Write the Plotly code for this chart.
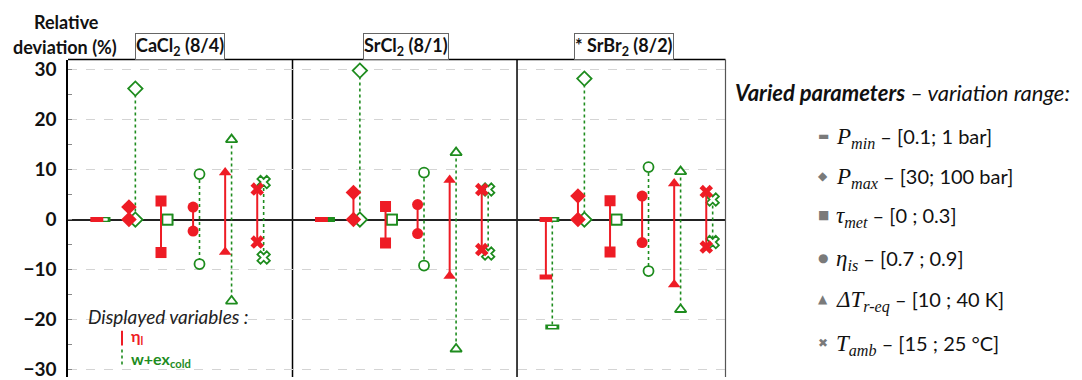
import plotly.graph_objects as go

# ---------------- data ----------------
materials = ["CaCl<sub>2</sub> (8/4)", "SrCl<sub>2</sub> (8/1)", "* SrBr<sub>2</sub> (8/2)"]
params = ["P_min", "P_max", "tau_met", "eta_is", "dT_r-eq", "T_amb"]

# (high, low) relative deviation (%) of eta_I for each parameter
eta_CaCl2 = [(0, 0), (2.5, 0), (3.7, -6.6), (2.5, -2.3), (9.4, -6.5), (6.1, -4.5)]
eta_SrCl2 = [(0, 0), (5.4, 0), (2.6, -4.7), (3.0, -2.8), (7.9, -11.3), (6.0, -6.0)]
eta_SrBr2 = [(0, -11.5), (4.7, 0), (3.75, -6.5), (4.7, -4.6), (7.2, -13.0), (5.6, -5.5)]

# (high, low) relative deviation (%) of w+ex_cold for each parameter
wex_CaCl2 = [(0, 0), (26.2, 0), (0, 0), (9.1, -8.9), (16.0, -16.3), (7.5, -7.6)]
wex_SrCl2 = [(0, 0), (29.8, 0), (0, 0), (9.4, -9.2), (13.4, -25.9), (6.0, -6.8)]
wex_SrBr2 = [(0, -21.5), (28.2, 0), (0, 0), (10.5, -10.3), (9.6, -18.0), (4.0, -4.5)]

eta_all = [eta_CaCl2, eta_SrCl2, eta_SrBr2]
wex_all = [wex_CaCl2, wex_SrCl2, wex_SrBr2]

y_ticks = [-30, -20, -10, 0, 10, 20, 30]

legend_items = [
    ("▬", "<i>P<sub>min</sub></i>", " – [0.1; 1 bar]"),
    ("◆", "<i>P<sub>max</sub></i>", " – [30; 100 bar]"),
    ("■", "<i>τ<sub>met</sub></i>", " – [0 ; 0.3]"),
    ("●", "<i>η<sub>is</sub></i>", " – [0.7 ; 0.9]"),
    ("▲", "<i>ΔT<sub>r-eq</sub></i>", " – [10 ; 40 K]"),
    ("✖", "<i>T<sub>amb</sub></i>", " – [15 ; 25 °C]"),
]

# ---------------- style ----------------
RED = "#ee1c25"
GREEN = "#1e8c1e"
FONT = "Lato"
PAGE_OFF = 8                    # page body margin of the browser
W, H = 1082 - PAGE_OFF, 380 - PAGE_OFF
PANEL_W = 7          # x-units per panel
OFFSET = 0.1         # red/green side offset


def fx(px):
    return (px - PAGE_OFF) / W


def fy(py):
    return 1 - (py - PAGE_OFF) / H


red_sym = ["line-ew", "diamond", "square", "circle", "triangle-up", "x"]
green_sym = ["line-ew", "diamond", "square", "circle", "triangle-up", "x"]
red_size = [9, 12, 11, 11, 11, 12]
green_size = [10, 11, 10, 10, 10, 11]

fig = go.Figure()


def collect(data_all, i, side):
    xs, ys = [], []
    for p, data in enumerate(data_all):
        hi, lo = data[i]
        xc = p * PANEL_W + 1 + i + side
        xs += [xc, xc, None]
        ys += [hi, lo, None]
    return xs, ys


# green (w+ex_cold) first, red on top
for i in range(len(params)):
    xs, ys = collect(wex_all, i, OFFSET)
    if i == 0:
        fig.add_trace(go.Scatter(x=xs, y=ys, mode="lines+markers",
                                 line=dict(color=GREEN, width=1.6, dash="dot"),
                                 marker=dict(symbol="line-ew", size=10,
                                             line=dict(color=GREEN, width=5)),
                                 showlegend=False, hoverinfo="skip"))
        # hollow interior (open rectangle) for panels 1 and 3
        hx = [v for k, v in enumerate(xs) if (k // 3) != 1]
        hy = [v for k, v in enumerate(ys) if (k // 3) != 1]
        fig.add_trace(go.Scatter(x=hx, y=hy, mode="markers",
                                 marker=dict(symbol="line-ew", size=6,
                                             line=dict(color="white", width=2)),
                                 showlegend=False, hoverinfo="skip"))
    else:
        fig.add_trace(go.Scatter(x=xs, y=ys, mode="lines+markers",
                                 line=dict(color=GREEN, width=1.6, dash="dot"),
                                 marker=dict(symbol=green_sym[i], size=green_size[i],
                                             color="white",
                                             line=dict(color=GREEN, width=1.8)),
                                 showlegend=False, hoverinfo="skip"))

for i in range(len(params)):
    xs, ys = collect(eta_all, i, -OFFSET)
    if i == 0:
        marker = dict(symbol="line-ew", size=9, line=dict(color=RED, width=5))
    else:
        marker = dict(symbol=red_sym[i], size=red_size[i], color=RED,
                      line=dict(color=RED, width=0))
    fig.add_trace(go.Scatter(x=xs, y=ys, mode="lines+markers",
                             line=dict(color=RED, width=2),
                             marker=marker, showlegend=False, hoverinfo="skip"))

# panel dividers and frame
shapes = []
for p in range(1, len(materials)):
    shapes.append(dict(type="line", xref="x", yref="y domain", x0=p * PANEL_W, x1=p * PANEL_W,
                       y0=0, y1=1, line=dict(color="black", width=1.5), layer="below"))
shapes.append(dict(type="line", xref="x domain", yref="y domain", x0=0, x1=1, y0=1, y1=1,
                   line=dict(color="black", width=1.5)))
shapes.append(dict(type="line", xref="x domain", yref="y domain", x0=1, x1=1, y0=0, y1=1,
                   line=dict(color="#555", width=1.2)))
# displayed-variables key lines
shapes.append(dict(type="line", xref="paper", yref="paper", x0=fx(122), x1=fx(122),
                   y0=fy(333), y1=fy(348), line=dict(color=RED, width=2)))
shapes.append(dict(type="line", xref="paper", yref="paper", x0=fx(122), x1=fx(122),
                   y0=fy(352), y1=fy(369), line=dict(color=GREEN, width=1.6, dash="dot")))

ann = []
ann.append(dict(text="<b>Relative</b>", x=fx(66), y=fy(20), xref="paper", yref="paper",
                showarrow=False, font=dict(size=18, family=FONT, color="#111"),
                xanchor="center", yanchor="middle"))
ann.append(dict(text="<b>deviation (%)</b>", x=fx(65), y=fy(45), xref="paper", yref="paper",
                showarrow=False, font=dict(size=18, family=FONT, color="#111"),
                xanchor="center", yanchor="middle"))
box_centers = [180, 406, 624]
for m, cx in zip(materials, box_centers):
    ann.append(dict(text="<b>" + m + "</b>", x=fx(cx), y=fy(45), xref="paper", yref="paper",
                    showarrow=False, font=dict(size=18, family=FONT, color="#111"),
                    xanchor="center", yanchor="middle", bordercolor="#666", borderwidth=1,
                    borderpad=0, bgcolor="white"))

ann.append(dict(text="<b><i>Varied parameters</i></b><i> – variation range:</i>",
                x=fx(733), y=fy(92), xref="paper", yref="paper", showarrow=False,
                font=dict(size=22, family=FONT, color="#111"), xanchor="left", yanchor="middle"))
item_y = [136, 176, 216, 259, 301, 346]
for (sym, name, rng), py in zip(legend_items, item_y):
    ann.append(dict(text=sym, x=fx(823), y=fy(py), xref="paper", yref="paper",
                    showarrow=False, font=dict(size=12, family="DejaVu Sans", color="#7a7a7a"),
                    xanchor="center", yanchor="middle"))
    ann.append(dict(text="<span style='font-family:Liberation Serif;font-size:23px'>" + name +
                    "</span>" + rng,
                    x=fx(834), y=fy(py + 2), xref="paper", yref="paper", showarrow=False,
                    font=dict(size=20, family=FONT, color="#111"), xanchor="left",
                    yanchor="middle"))

ann.append(dict(text="<i>Displayed variables :</i>", x=fx(86), y=fy(319), xref="paper",
                yref="paper", showarrow=False, font=dict(size=19, family=FONT, color="#222"),
                xanchor="left", yanchor="middle"))
ann.append(dict(text="<b>η<sub>l</sub></b>", x=fx(129), y=fy(339), xref="paper",
                yref="paper", showarrow=False, font=dict(size=16, family=FONT, color=RED),
                xanchor="left", yanchor="middle"))
ann.append(dict(text="<b>w+ex<sub>cold</sub></b>", x=fx(129), y=fy(362), xref="paper",
                yref="paper", showarrow=False, font=dict(size=16, family=FONT, color=GREEN),
                xanchor="left", yanchor="middle"))

fig.update_layout(
    width=W, height=H,
    margin=dict(l=0, r=0, t=0, b=0),
    paper_bgcolor="white", plot_bgcolor="white",
    shapes=shapes, annotations=ann,
    xaxis=dict(domain=[fx(68), fx(725.5)], range=[0, 20.5], visible=False,
               showgrid=False, zeroline=False),
    yaxis=dict(domain=[0, fy(58.3)], range=[-31.5, 32],
               tickvals=y_ticks, ticktext=[("−" + str(-v)) if v < 0 else str(v) for v in y_ticks],
               tickfont=dict(size=19, family=FONT, color="#111", weight="bold"),
               ticklabeloverflow="allow",
               showgrid=True, gridcolor="#d4d4d4", griddash="dash", gridwidth=1,
               zeroline=True, zerolinecolor="#222", zerolinewidth=2,
               showline=True, linecolor="black", linewidth=1.5,
               ticks="", ticklabelstandoff=6,
               minor=dict(dtick=5, ticks="inside", ticklen=4, tickcolor="#888", showgrid=False)),
)

fig.write_html("out.html")
